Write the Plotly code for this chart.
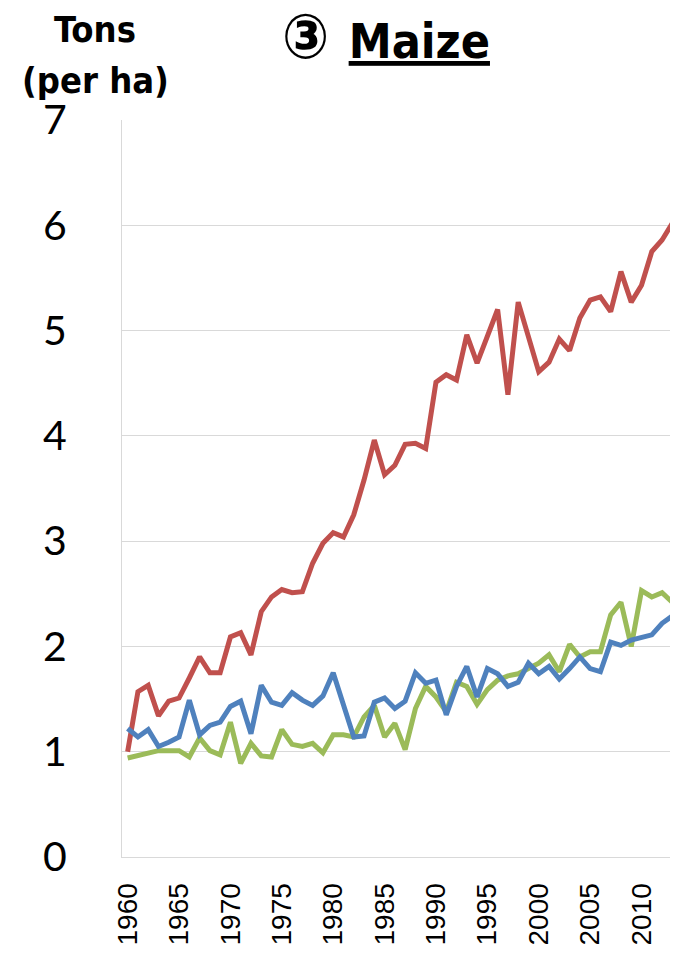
import plotly.graph_objects as go

years = list(range(1960, 2014))

red_vals = [1.00, 1.57, 1.63, 1.34, 1.48, 1.51, 1.70, 1.90, 1.75, 1.75,
            2.09, 2.13, 1.92, 2.33, 2.47, 2.54, 2.51, 2.52, 2.79, 2.98,
            3.08, 3.04, 3.25, 3.58, 3.96, 3.63, 3.72, 3.92, 3.93, 3.88,
            4.51, 4.58, 4.53, 4.96, 4.69, 4.94, 5.20, 4.39, 5.27, 4.94,
            4.61, 4.70, 4.92, 4.81, 5.12, 5.29, 5.32, 5.18, 5.56, 5.27,
            5.43, 5.75, 5.86, 6.02]

blue_vals = [1.22, 1.14, 1.21, 1.05, 1.09, 1.14, 1.49, 1.16, 1.25, 1.28,
             1.43, 1.48, 1.17, 1.63, 1.47, 1.44, 1.56, 1.49, 1.44, 1.53,
             1.75, 1.45, 1.14, 1.15, 1.47, 1.51, 1.41, 1.48, 1.75, 1.65,
             1.68, 1.35, 1.62, 1.81, 1.52, 1.79, 1.74, 1.62, 1.66, 1.84,
             1.74, 1.81, 1.69, 1.79, 1.90, 1.79, 1.76, 2.04, 2.01, 2.06,
             2.08, 2.11, 2.22, 2.29]

green_vals = [0.94, 0.96, 0.99, 1.01, 1.01, 1.01, 0.95, 1.13, 1.01, 0.97,
              1.28, 0.89, 1.08, 0.96, 0.95, 1.21, 1.07, 1.05, 1.08, 0.99,
              1.16, 1.16, 1.14, 1.33, 1.44, 1.14, 1.27, 1.02, 1.41, 1.62,
              1.52, 1.38, 1.66, 1.62, 1.45, 1.59, 1.68, 1.72, 1.74, 1.79,
              1.84, 1.92, 1.76, 2.02, 1.90, 1.95, 1.95, 2.30, 2.42, 2.00,
              2.53, 2.47, 2.51, 2.42]

y_ticks = [0, 1, 2, 3, 4, 5, 6, 7]
x_ticks = list(range(1960, 2011, 5))

RED = "#C0504D"
BLUE = "#4F81BD"
GREEN = "#9BBB59"
GRID = "#D9D9D9"

fig = go.Figure()
fig.add_trace(go.Scatter(x=years, y=red_vals, mode="lines",
                         line=dict(color=RED, width=5), showlegend=False))
fig.add_trace(go.Scatter(x=years, y=green_vals, mode="lines",
                         line=dict(color=GREEN, width=5), showlegend=False))
fig.add_trace(go.Scatter(x=years, y=blue_vals, mode="lines",
                         line=dict(color=BLUE, width=5), showlegend=False))

title_font = "DejaVu Sans Condensed, Liberation Sans Narrow, Liberation Sans, sans-serif"

# page body has an 8px default margin, so the figure is sized 8px smaller
fig.update_layout(
    width=670, height=947,
    margin=dict(l=114, r=0, t=112, b=98),
    plot_bgcolor="white", paper_bgcolor="white",
    xaxis=dict(
        range=[1959.45, 2013.55],
        tickmode="array", tickvals=x_ticks, ticktext=[str(t) for t in x_ticks],
        tickangle=-90,
        tickfont=dict(family="Liberation Sans, Arial, sans-serif", size=28, color="#000000"),
        showgrid=False, zeroline=False,
        showline=True, linecolor=GRID, linewidth=1,
        ticks="", ticklabelstandoff=14, automargin=False,
    ),
    yaxis=dict(
        range=[0, 7],
        tickmode="array", tickvals=y_ticks, ticktext=[str(t) for t in y_ticks],
        tickfont=dict(family="Lato, Open Sans, sans-serif", size=41, color="#000000"),
        showgrid=True, gridcolor=GRID, gridwidth=1,
        zeroline=False,
        showline=True, linecolor=GRID, linewidth=1,
        ticks="", ticklabelstandoff=46, automargin=False,
    ),
    annotations=[
        dict(text="<b>Tons</b>", xref="paper", yref="paper",
             x=(95 - 122) / 556, y=(857 - 29) / 737,
             xanchor="center", yanchor="middle", showarrow=False,
             font=dict(family=title_font, size=36, color="#000000")),
        dict(text="<b>(per ha)</b>", xref="paper", yref="paper",
             x=(95 - 122) / 556, y=(857 - 80) / 737,
             xanchor="center", yanchor="middle", showarrow=False,
             font=dict(family=title_font, size=36, color="#000000")),
        dict(text="<b>③ <span style='font-size:48px'><u>Maize</u></span></b>",
             xref="paper", yref="paper",
             x=(386 - 122) / 556, y=(857 - 36) / 737,
             xanchor="center", yanchor="middle", showarrow=False,
             font=dict(family=title_font, size=62, color="#000000")),
    ],
)

fig.write_html("out.html")
